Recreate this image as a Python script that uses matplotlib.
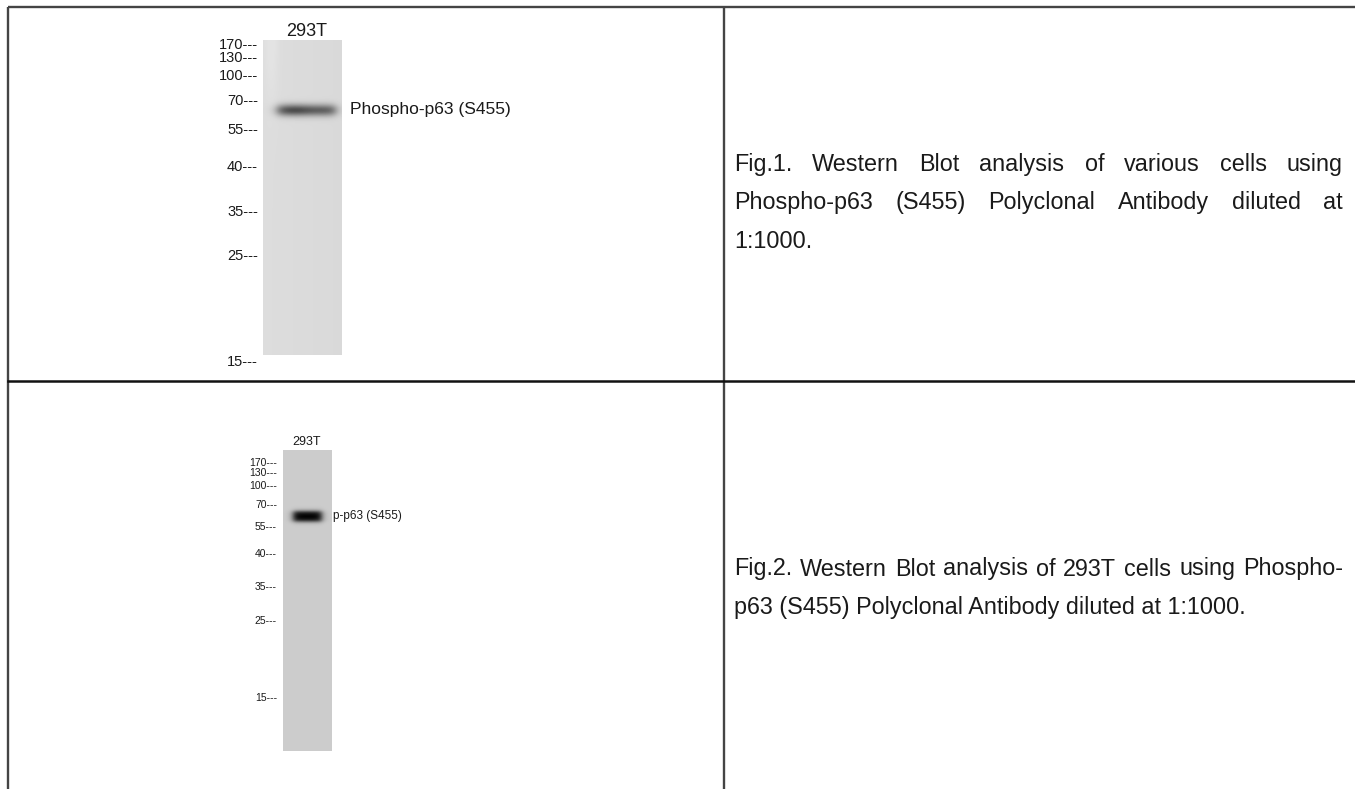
import matplotlib
matplotlib.use('Agg')
import matplotlib.pyplot as plt
import numpy as np

# marker ladder (kDa) and where each marker sits on the two blots
marker_kda = [170, 130, 100, 70, 55, 40, 35, 25, 15]
marker_y_fig1 = [45, 58, 76, 101, 130, 167, 212, 256, 362]
marker_y_fig2 = [463, 473, 486, 505, 527, 554, 587, 621, 698]

lane_name = '293T'
band_kda_fig1 = 65
band_kda_fig2 = 62
band_label_fig1 = 'Phospho-p63 (S455)'
band_label_fig2 = 'p-p63 (S455)'

caption_fig1 = ['Fig.1. Western Blot analysis of various cells using',
                'Phospho-p63 (S455) Polyclonal Antibody diluted at',
                '1:1000.']
caption_fig2 = ['Fig.2. Western Blot analysis of 293T cells using Phospho-',
                'p63 (S455) Polyclonal Antibody diluted at 1:1000.']

W, H = 1355, 789
NARROW = ['Liberation Sans Narrow', 'Liberation Sans', 'DejaVu Sans']
SANS = ['Liberation Sans', 'DejaVu Sans']
TXT = '#1a1a1a'


def kda_to_y(kda, ladder, ys):
    # gel position is roughly linear in log(MW) between neighbouring markers
    lk = np.log(np.array(ladder, dtype=float))[::-1]
    return float(np.interp(np.log(kda), lk, np.array(ys, dtype=float)[::-1]))


def draw_blot(ax, lane, ys, band_kda, band_label, base, band_dark, sigma,
              band_x, label_x, label_fs, mark_x, mark_fs, name_xy, name_fs, soft):
    x0, x1, y0, y1 = lane
    nx, ny = int(x1 - x0), int(y1 - y0)
    xx = np.linspace(x0, x1, nx)
    yy = np.linspace(y0, y1, ny)
    X, Y = np.meshgrid(xx, yy)
    img = np.full(X.shape, base)
    if soft:
        # faint lighter streak on the left of the old scan
        img += 0.03 * np.exp(-((X - (x0 + 8)) / 7.0) ** 2) * np.exp(-((Y - y0) / 60.0) ** 2)
        img -= 0.015 * (X - x0) / (x1 - x0)
    by = kda_to_y(band_kda, marker_kda, ys)
    bx0, bx1 = band_x
    edge = 3.0 if soft else 2.0
    hx = 1 / (1 + np.exp(-(X - bx0) / edge)) * 1 / (1 + np.exp((X - bx1) / edge))
    if soft:
        hx *= 0.85 + 0.15 * np.exp(-((X - (bx0 + bx1) / 2 + 12) / 14.0) ** 2)
        prof = np.exp(-0.5 * ((Y - by) / sigma) ** 2)
    else:
        prof = 1 / (1 + np.exp((np.abs(Y - by) - sigma) / 1.2))
    img = img - band_dark * hx * prof
    img = np.clip(img, 0, 1)
    ax.imshow(img, cmap='gray', vmin=0, vmax=1, extent=(x0, x1, y1, y0),
              interpolation='bilinear', zorder=2)

    for k, y in zip(marker_kda, ys):
        ax.text(mark_x, y, '{0}---'.format(k), ha='right', va='center',
                fontsize=mark_fs, family=NARROW, color=TXT, zorder=3)
    ax.text(name_xy[0], name_xy[1], lane_name, ha='center', va='center',
            fontsize=name_fs, family=NARROW, color=TXT, zorder=3)
    ax.text(label_x, by, band_label, ha='left', va='center',
            fontsize=label_fs, family=NARROW, color=TXT, zorder=3)


def draw_caption(ax, lines, x0, x1, y_first, step, fs, justify_last=False):
    renderer = ax.figure.canvas.get_renderer()
    for i, line in enumerate(lines):
        y = y_first + i * step
        last = i == len(lines) - 1
        if last and not justify_last:
            ax.text(x0, y, line, ha='left', va='center', fontsize=fs,
                    family=SANS, color=TXT)
            continue
        words = line.split(' ')
        objs = [ax.text(0, y, w, ha='left', va='center', fontsize=fs,
                        family=SANS, color=TXT) for w in words]
        widths = [o.get_window_extent(renderer).width for o in objs]
        gap = (x1 - x0 - sum(widths)) / max(len(words) - 1, 1)
        x = x0
        for o, w in zip(objs, widths):
            o.set_x(x)
            x += w + gap


fig = plt.figure(figsize=(W / 100, H / 100), dpi=100)
ax = fig.add_axes([0, 0, 1, 1])
ax.set_xlim(0, W)
ax.set_ylim(H, 0)
ax.axis('off')

# table frame
grid = dict(color='#444444', linewidth=1.7, solid_capstyle='butt', zorder=5)
ax.plot([8, W], [7, 7], **grid)
ax.plot([8, 8], [7, H], **grid)
ax.plot([724, 724], [7, H], **grid)
ax.plot([8, W], [381, 381], color='#111111', linewidth=1.8, zorder=5)

draw_blot(ax, (263, 342, 40, 355), marker_y_fig1, band_kda_fig1, band_label_fig1,
          base=0.865, band_dark=0.56, sigma=4.2, band_x=(277, 336), label_x=350,
          label_fs=12.5, mark_x=258, mark_fs=10.5, name_xy=(307, 31), name_fs=13, soft=True)

draw_blot(ax, (283, 332, 450, 751), marker_y_fig2, band_kda_fig2, band_label_fig2,
          base=0.80, band_dark=0.80, sigma=5.0, band_x=(293, 322), label_x=333,
          label_fs=8.5, mark_x=277, mark_fs=7.5, name_xy=(307, 442), name_fs=9.0, soft=False)

fig.canvas.draw()
draw_caption(ax, caption_fig1, 734, 1343, 164, 38.5, 16.8)
draw_caption(ax, caption_fig2, 734, 1343, 569, 38.5, 16.8)

fig.savefig('out.png', dpi=100)
